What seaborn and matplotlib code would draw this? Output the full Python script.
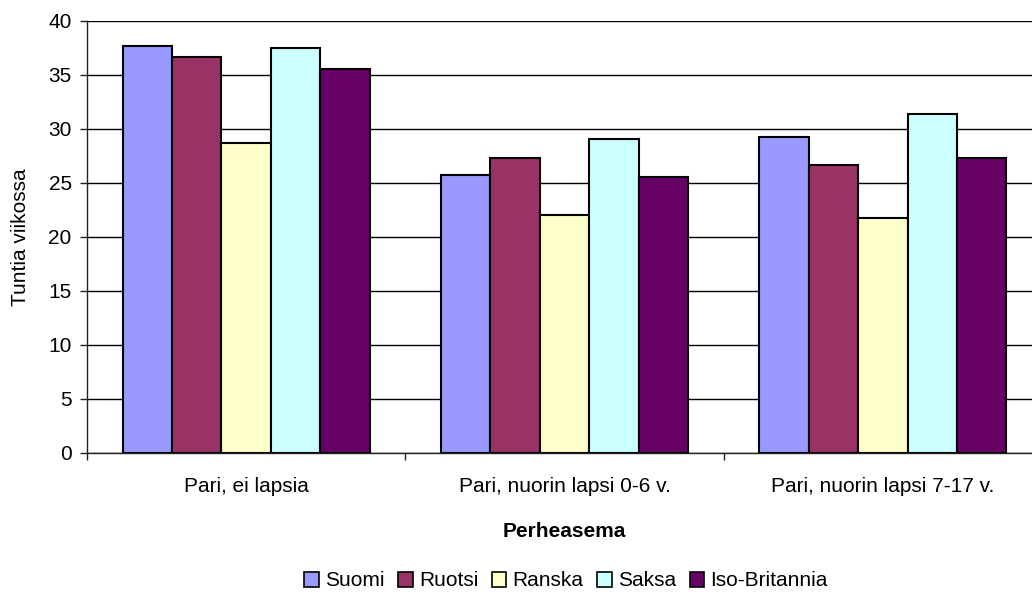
import matplotlib
matplotlib.use("Agg")
import matplotlib.pyplot as plt
import seaborn as sns
import pandas as pd
from matplotlib.patches import Patch
from matplotlib.ticker import FixedLocator

# Weekly working hours by family situation and country
categories = ["Pari, ei lapsia", "Pari, nuorin lapsi 0-6 v.", "Pari, nuorin lapsi 7-17 v."]
countries = ["Suomi", "Ruotsi", "Ranska", "Saksa", "Iso-Britannia"]
suomi = [37.7, 25.7, 29.3]
ruotsi = [36.7, 27.3, 26.7]
ranska = [28.7, 22.0, 21.8]
saksa = [37.5, 29.1, 31.4]
iso_britannia = [35.6, 25.6, 27.3]
colors = ["#9999FF", "#993366", "#FFFFCC", "#CCFFFF", "#660066"]

rows = []
for country, vals in zip(countries, [suomi, ruotsi, ranska, saksa, iso_britannia]):
    for cat, v in zip(categories, vals):
        rows.append({"Perheasema": cat, "Maa": country, "Tunnit": v})
df = pd.DataFrame(rows)

sns.set_theme(style="white")
plt.rcParams["font.family"] = ["Liberation Sans", "DejaVu Sans"]
plt.rcParams["text.color"] = "black"
plt.rcParams["xtick.color"] = "black"
plt.rcParams["ytick.color"] = "black"
plt.rcParams["axes.labelcolor"] = "black"

FS = 15
W, H = 1032, 609
fig = plt.figure(figsize=(W / 100, H / 100), dpi=100)
# plot area runs slightly past the right edge of the figure
left, right, top, bottom = 87, 1042, 21, 453
ax = fig.add_axes([left / W, 1 - bottom / H, (right - left) / W, (bottom - top) / H])

sns.barplot(data=df, x="Perheasema", y="Tunnit", hue="Maa", hue_order=countries,
            order=categories, palette=colors, width=0.776, saturation=1,
            edgecolor="black", linewidth=1.5, ax=ax, legend=False)

ax.set_xlim(-0.5, 2.5)
ax.set_ylim(0, 40)
ax.set_yticks(range(0, 41, 5))
ax.yaxis.grid(True, color="black", linewidth=1.0)
ax.set_axisbelow(True)
for s in ["top", "right"]:
    ax.spines[s].set_visible(False)
for s in ["left", "bottom"]:
    ax.spines[s].set_color("#222222")
    ax.spines[s].set_linewidth(1.0)

ax.tick_params(axis="y", which="major", left=True, length=5, width=1, color="#222222",
               labelsize=FS, pad=6)
ax.tick_params(axis="x", which="major", bottom=False, length=0, labelsize=FS, pad=17)
ax.xaxis.set_minor_locator(FixedLocator([-0.5, 0.5, 1.5, 2.5]))
ax.tick_params(axis="x", which="minor", bottom=True, length=5, width=1, color="#222222")

ax.set_xlabel("Perheasema", fontsize=FS, fontweight="bold")
ax.xaxis.set_label_coords((564 - left) / (right - left), -(522 - bottom) / (bottom - top))
ax.set_ylabel("Tuntia viikossa", fontsize=FS)
ax.yaxis.set_label_coords(-(left - 30) / (right - left), 0.5)

handles = [Patch(facecolor=c, edgecolor="black", linewidth=1.2, label=n)
           for c, n in zip(colors, countries)]
fig.legend(handles=handles, loc="center", bbox_to_anchor=(566 / W, 1 - 581 / H),
           ncol=5, frameon=False, fontsize=FS, handlelength=0.7, handleheight=0.7,
           handletextpad=0.3, columnspacing=0.65, borderaxespad=0)

fig.savefig("out.png", dpi=100, facecolor="white")
